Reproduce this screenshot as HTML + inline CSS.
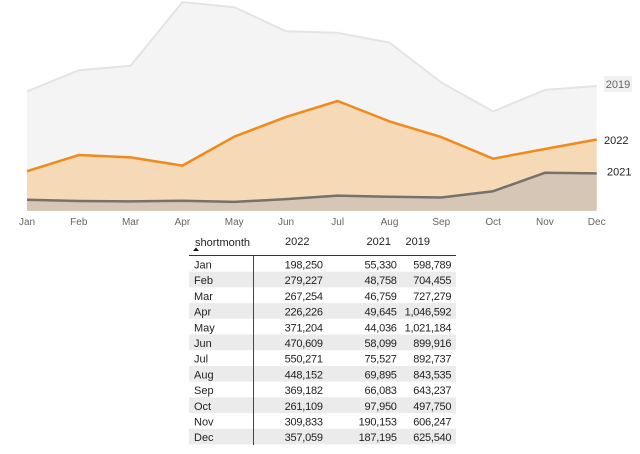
<!DOCTYPE html>
<html>
<head>
<meta charset="utf-8">
<style>
html,body{margin:0;padding:0;background:#fff;}
body{width:640px;height:454px;overflow:hidden;}
svg{display:block;font-family:"Liberation Sans",sans-serif;}
</style>
</head>
<body>
<svg width="640" height="454" viewBox="0 0 640 454" xmlns="http://www.w3.org/2000/svg">
  <!-- 2019 area -->
  <path d="M27,91.4 L78.8,70.3 L130.6,65.8 L182.4,2.1 L234.2,7.2 L286,31.3 L337.7,32.8 L389.5,42.6 L441.3,82.5 L493.1,111.5 L544.9,89.9 L596.7,86 L596.7,210.7 L27,210.7 Z" fill="#f4f4f4"/>
  <polyline points="27,91.4 78.8,70.3 130.6,65.8 182.4,2.1 234.2,7.2 286,31.3 337.7,32.8 389.5,42.6 441.3,82.5 493.1,111.5 544.9,89.9 596.7,86" fill="none" stroke="#e4e4e4" stroke-width="2" stroke-linejoin="round"/>
  <!-- 2022 area -->
  <path d="M27,171.2 L78.8,155.05 L130.6,157.4 L182.4,165.6 L234.2,136.7 L286,116.9 L337.7,101 L389.5,121.4 L441.3,137.1 L493.1,158.7 L544.9,149 L596.7,139.5 L596.7,210.7 L27,210.7 Z" fill="#f6d9b7"/>
  <polyline points="27,171.2 78.8,155.05 130.6,157.4 182.4,165.6 234.2,136.7 286,116.9 337.7,101 389.5,121.4 441.3,137.1 493.1,158.7 544.9,149 596.7,139.5" fill="none" stroke="#f08a1d" stroke-width="2.5" stroke-linejoin="round"/>
  <!-- 2021 area -->
  <path d="M27,199.7 L78.8,201 L130.6,201.4 L182.4,200.8 L234.2,201.9 L286,199.1 L337.7,195.6 L389.5,196.8 L441.3,197.5 L493.1,191.2 L544.9,172.8 L596.7,173.4 L596.7,210.7 L27,210.7 Z" fill="#d6c6b6"/>
  <polyline points="27,199.7 78.8,201 130.6,201.4 182.4,200.8 234.2,201.9 286,199.1 337.7,195.6 389.5,196.8 441.3,197.5 493.1,191.2 544.9,172.8 596.7,173.4" fill="none" stroke="#78706b" stroke-width="2.5" stroke-linejoin="round"/>

  <!-- series labels -->
  <rect x="604" y="76" width="28" height="16" fill="#f0f0f0"/>
  <text x="618" y="88" font-size="11" fill="#666" text-anchor="middle">2019</text>
  <text x="604" y="144" font-size="11" fill="#222">2022</text>
  <text x="607" y="175.5" font-size="11" fill="#222">2021</text>

  <!-- month axis -->
  <g font-size="10" fill="#666" text-anchor="middle">
    <text x="27" y="225">Jan</text>
    <text x="78.8" y="225">Feb</text>
    <text x="130.6" y="225">Mar</text>
    <text x="182.4" y="225">Apr</text>
    <text x="234.2" y="225">May</text>
    <text x="286" y="225">Jun</text>
    <text x="337.7" y="225">Jul</text>
    <text x="389.5" y="225">Aug</text>
    <text x="441.3" y="225">Sep</text>
    <text x="493.1" y="225">Oct</text>
    <text x="544.9" y="225">Nov</text>
    <text x="596.7" y="225">Dec</text>
  </g>

  <!-- table -->
  <g fill="#ebebeb">
    <rect x="189" y="271.7" width="267" height="15.7"/>
    <rect x="189" y="303.1" width="267" height="15.7"/>
    <rect x="189" y="334.5" width="267" height="15.7"/>
    <rect x="189" y="365.9" width="267" height="15.7"/>
    <rect x="189" y="397.3" width="267" height="15.7"/>
    <rect x="189" y="428.7" width="267" height="15.7"/>
  </g>
  <line x1="189" y1="255.5" x2="456" y2="255.5" stroke="#333" stroke-width="1"/>
  <line x1="253.5" y1="256" x2="253.5" y2="445" stroke="#444" stroke-width="1"/>

  <g font-size="11" fill="#222">
    <text x="195" y="246">shortmonth</text>
    <text x="285" y="245">2022</text>
    <text x="366.5" y="245">2021</text>
    <text x="405.5" y="245">2019</text>
  </g>
  <path d="M193,251 L196,247.5 L199,251 Z" fill="#111"/>

  <g font-size="11" fill="#222">
    <text x="194" y="268.5">Jan</text>
    <text x="194" y="284.2">Feb</text>
    <text x="194" y="299.9">Mar</text>
    <text x="194" y="315.6">Apr</text>
    <text x="194" y="331.3">May</text>
    <text x="194" y="347">Jun</text>
    <text x="194" y="362.7">Jul</text>
    <text x="194" y="378.4">Aug</text>
    <text x="194" y="394.1">Sep</text>
    <text x="194" y="409.8">Oct</text>
    <text x="194" y="425.5">Nov</text>
    <text x="194" y="441.2">Dec</text>
  </g>
  <g font-size="11" fill="#222" text-anchor="end" letter-spacing="-0.25">
    <text x="322.7" y="268.5">198,250</text>
    <text x="322.7" y="284.2">279,227</text>
    <text x="322.7" y="299.9">267,254</text>
    <text x="322.7" y="315.6">226,226</text>
    <text x="322.7" y="331.3">371,204</text>
    <text x="322.7" y="347">470,609</text>
    <text x="322.7" y="362.7">550,271</text>
    <text x="322.7" y="378.4">448,152</text>
    <text x="322.7" y="394.1">369,182</text>
    <text x="322.7" y="409.8">261,109</text>
    <text x="322.7" y="425.5">309,833</text>
    <text x="322.7" y="441.2">357,059</text>

    <text x="396.7" y="268.5">55,330</text>
    <text x="396.7" y="284.2">48,758</text>
    <text x="396.7" y="299.9">46,759</text>
    <text x="396.7" y="315.6">49,645</text>
    <text x="396.7" y="331.3">44,036</text>
    <text x="396.7" y="347">58,099</text>
    <text x="396.7" y="362.7">75,527</text>
    <text x="396.7" y="378.4">69,895</text>
    <text x="396.7" y="394.1">66,083</text>
    <text x="396.7" y="409.8">97,950</text>
    <text x="396.7" y="425.5">190,153</text>
    <text x="396.7" y="441.2">187,195</text>

    <text x="451.3" y="268.5">598,789</text>
    <text x="451.3" y="284.2">704,455</text>
    <text x="451.3" y="299.9">727,279</text>
    <text x="451.3" y="315.6">1,046,592</text>
    <text x="451.3" y="331.3">1,021,184</text>
    <text x="451.3" y="347">899,916</text>
    <text x="451.3" y="362.7">892,737</text>
    <text x="451.3" y="378.4">843,535</text>
    <text x="451.3" y="394.1">643,237</text>
    <text x="451.3" y="409.8">497,750</text>
    <text x="451.3" y="425.5">606,247</text>
    <text x="451.3" y="441.2">625,540</text>
  </g>
</svg>
</body>
</html>
